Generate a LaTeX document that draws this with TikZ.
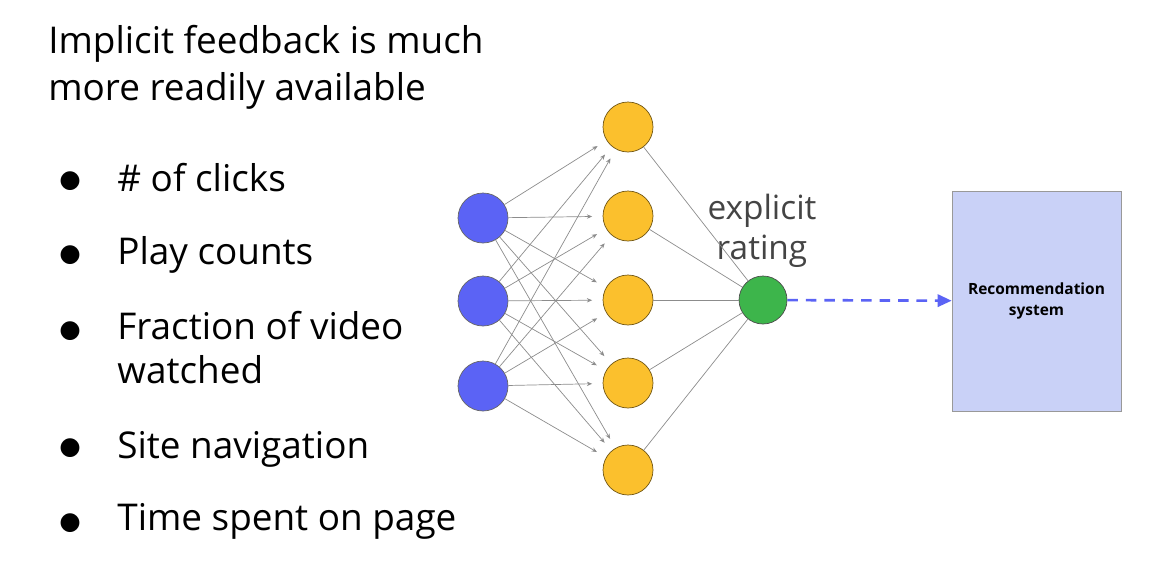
\documentclass[tikz,border=0pt]{standalone}
\usepackage{fontspec}
\setmainfont{Open Sans}
\newfontfamily\symfont{DejaVu Sans}
\usetikzlibrary{arrows.meta}
\definecolor{inblue}{HTML}{5B63F5}
\definecolor{hidyellow}{HTML}{FBC02D}
\definecolor{outgreen}{HTML}{3DB54B}
\definecolor{boxblue}{HTML}{C9D1F7}
\definecolor{txtgray}{HTML}{444444}
\tikzset{
  inp/.style={circle,draw=black!60,fill=inblue,minimum size=1cm,inner sep=0pt},
  hid/.style={circle,draw=black!55!hidyellow,fill=hidyellow,minimum size=1cm,inner sep=0pt},
  outp/.style={circle,draw=black!70,fill=outgreen,minimum size=0.96cm,inner sep=0pt},
  wire/.style={draw=black!45,line width=0.4pt},
  bigtxt/.style={anchor=base west,inner sep=0pt,font=\fontsize{21}{25}\selectfont},
  dot/.style={inner sep=0pt,font=\symfont\fontsize{14}{16}\selectfont},
}
\begin{document}
\begin{tikzpicture}[x=0.02cm,y=-0.02cm]
  \useasboundingbox (0,0) rectangle (1155,575);
  % heading and list
  \node[bigtxt] (head1) at (48,53) {Implicit feedback is much};
  \node[bigtxt] (head2) at (48,100) {more readily available};
  \node[dot] (dot1) at (70,181) {●};
  \node[dot] (dot2) at (70,255) {●};
  \node[dot] (dot3) at (70,331) {●};
  \node[dot] (dot4) at (70,448) {●};
  \node[dot] (dot5) at (70,523) {●};
  \node[bigtxt] (item1) at (117,191) {\# of clicks};
  \node[bigtxt] (item2) at (117,264) {Play counts};
  \node[bigtxt] (item3) at (117,339) {Fraction of video};
  \node[bigtxt] (item3b) at (117,383) {watched};
  \node[bigtxt] (item4) at (117,458) {Site navigation};
  \node[bigtxt] (item5) at (117,530) {Time spent on page};
  % network
  \draw
    (483,218) node[inp] (b1){}
    (483,301) node[inp] (b2){}
    (483,386) node[inp] (b3){}
    (628,127) node[hid] (y1){}
    (628,216) node[hid] (y2){}
    (628,300) node[hid] (y3){}
    (628,383) node[hid] (y4){}
    (628,470) node[hid] (y5){}
    (763,300) node[outp] (g){};
  \node[text=txtgray,align=center,font=\fontsize{19}{23}\selectfont] (lbl) at (762,231) {explicit\\rating};
  \node[draw=black!40,fill=boxblue,minimum width=3.38cm,minimum height=4.4cm,
        align=center,font=\bfseries\fontsize{8.8}{11.5}\selectfont] (rec) at (1036.5,301) {Recommendation\\system};
  \begin{scope}[wire,-{Stealth[length=3pt,width=2.5pt]},shorten >=6pt]
    \draw (b1) -- (y1); \draw (b1) -- (y2); \draw (b1) -- (y3); \draw (b1) -- (y4); \draw (b1) -- (y5);
    \draw (b2) -- (y1); \draw (b2) -- (y2); \draw (b2) -- (y3); \draw (b2) -- (y4); \draw (b2) -- (y5);
    \draw (b3) -- (y1); \draw (b3) -- (y2); \draw (b3) -- (y3); \draw (b3) -- (y4); \draw (b3) -- (y5);
  \end{scope}
  \begin{scope}[wire]
    \draw (y1) -- (g); \draw (y2) -- (g); \draw (y3) -- (g); \draw (y4) -- (g); \draw (y5) -- (g);
  \end{scope}
  \draw[inblue,line width=1.5pt,dash pattern=on 6pt off 4.5pt,-{Triangle[length=8pt,width=7pt]}] (g) -- (rec);
\end{tikzpicture}
\end{document}
